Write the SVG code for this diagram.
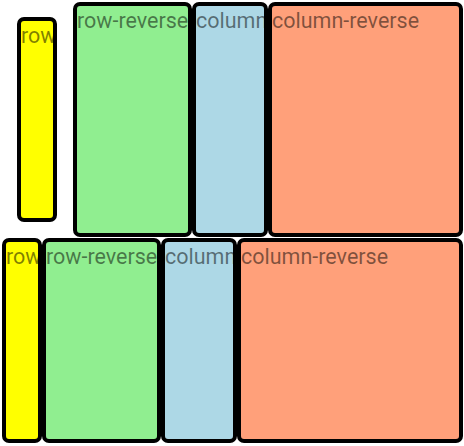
<svg xmlns="http://www.w3.org/2000/svg" width="464" height="446" viewBox="0 0 464 446">
<style>
.box{stroke:#000;stroke-width:4}
.y{fill:#FFFF00}.g{fill:#90EE90}.b{fill:#ADD8E6}.o{fill:#FFA07A}
.t{font-family:Roboto,"Liberation Sans",sans-serif;font-size:21.5px;fill:#000;fill-opacity:0.5}
</style>
<rect width="464" height="446" fill="#fff"/>
<g id="top-row">
<g id="top-row-item"><rect class="box y" x="19" y="19" width="36" height="201" rx="5"/><text class="t" x="21" y="43">row</text></g>
<g id="top-row-reverse"><rect class="box g" x="75" y="4" width="115" height="231" rx="5"/><text class="t" x="77" y="28">row-reverse</text></g>
<g id="top-column"><rect class="box b" x="194" y="4" width="72" height="231" rx="5"/><text class="t" x="196" y="28">column</text></g>
<g id="top-column-reverse"><rect class="box o" x="270" y="4" width="191" height="231" rx="5"/><text class="t" x="272" y="28">column-reverse</text></g>
</g>
<g id="bottom-row">
<g id="bottom-row-item"><rect class="box y" x="4" y="240" width="36" height="201" rx="5"/><text class="t" x="6" y="264">row</text></g>
<g id="bottom-row-reverse"><rect class="box g" x="44" y="240" width="115" height="201" rx="5"/><text class="t" x="46" y="264">row-reverse</text></g>
<g id="bottom-column"><rect class="box b" x="163" y="240" width="72" height="201" rx="5"/><text class="t" x="165" y="264">column</text></g>
<g id="bottom-column-reverse"><rect class="box o" x="239" y="240" width="222" height="201" rx="5"/><text class="t" x="241" y="264">column-reverse</text></g>
</g>
</svg>
